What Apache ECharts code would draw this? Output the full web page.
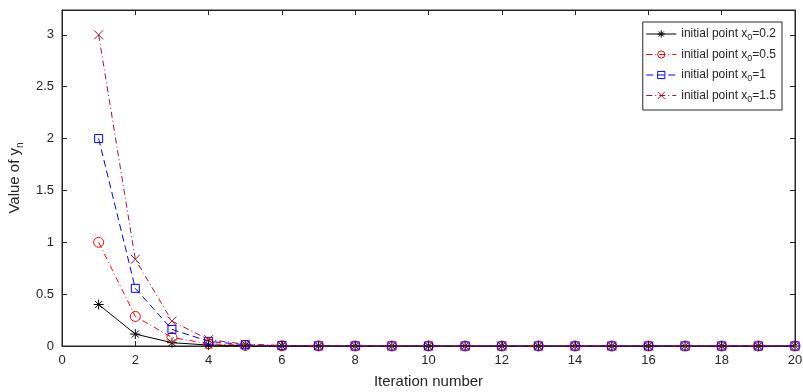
<!DOCTYPE html>
<html><head><meta charset="utf-8">
<script src="https://cdn.jsdelivr.net/npm/echarts@6/dist/echarts.min.js"></script>
<style>html,body{margin:0;padding:0;background:#fff}#c{width:803px;height:392px}</style>
</head><body><div id="c"></div>
<script>
const iterations = [1,2,3,4,5,6,7,8,9,10,11,12,13,14,15,16,17,18,19,20];
const seriesNames = ['0.2','0.5','1','1.5'];
const y02 = [0.4,0.115,0.032,0.009,0.0025,0.0007,0.0002,0.0001,0,0,0,0,0,0,0,0,0,0,0,0];
const y05 = [1,0.285,0.082,0.022,0.006,0.0017,0.0005,0.0001,0,0,0,0,0,0,0,0,0,0,0,0];
const y1  = [2,0.556,0.16,0.045,0.012,0.0035,0.001,0.0003,0.0001,0,0,0,0,0,0,0,0,0,0,0];
const y15 = [3,0.836,0.24,0.062,0.017,0.005,0.0014,0.0004,0.0001,0,0,0,0,0,0,0,0,0,0,0];
const xTicks = [0,2,4,6,8,10,12,14,16,18,20];
const yTicks = [0,0.5,1,1.5,2,2.5,3];

const txt = '#262626';
const font = 'Liberation Sans';
const pair = a => a.map((v,i)=>[iterations[i], v]);
const starPath = 'path://M5,0L5,10M0,5L10,5M1.5,1.5L8.5,8.5M8.5,1.5L1.5,8.5';
const xPath = 'path://M0,0L10,10M10,0L0,10';

function mk(name, data, color, dash, symbol, size){
  return {
    name: 'initial point x{s|0}=' + name,
    type: 'line', data: pair(data), symbol: symbol, symbolSize: size,
    showAllSymbol: true,
    lineStyle: {color: color, width: 1, type: dash},
    itemStyle: {color: 'rgba(0,0,0,0)', borderColor: color, borderWidth: 1},
    emphasis: {disabled: true}, animation: false
  };
}
const chart = echarts.init(document.getElementById('c'));
const axisCommon = {
  axisLine: {onZero: false, lineStyle: {color: txt, width: 1}},
  axisTick: {inside: true, length: 5, lineStyle: {color: txt}},
  splitLine: {show: false}
};
chart.setOption({
  animation: false,
  grid: {left: 62, right: 8, top: 10, bottom: 46, show: true, borderColor: txt, borderWidth: 1,
    backgroundColor: '#fff', containLabel: false, outerBoundsMode: 'none'},
  legend: {
    right: 21, top: 22, orient: 'vertical', itemWidth: 30, itemHeight: 9, itemGap: 6,
    borderColor: txt, borderWidth: 1, backgroundColor: '#fff', padding: [6, 6, 6, 3],
    lineStyle: {width: 1},
    itemStyle: {color: 'rgba(0,0,0,0)', borderWidth: 1},
    textStyle: {color: txt, fontSize: 12, fontFamily: font, rich: {
      s: {fontSize: 9, verticalAlign: 'bottom', padding: [8,0,0,0], color: txt, fontFamily: font}
    }}
  },
  xAxis: [
    Object.assign({type: 'value', min: 0, max: 20, interval: 2, position: 'bottom',
      name: 'Iteration number', nameLocation: 'middle', nameGap: 28,
      nameTextStyle: {color: txt, fontSize: 15, fontFamily: font},
      axisLabel: {color: txt, fontSize: 13, fontFamily: font, margin: 8}}, axisCommon),
    Object.assign({type: 'value', min: 0, max: 20, interval: 2, position: 'top', axisLabel: {show: false}}, axisCommon)
  ],
  yAxis: [
    Object.assign({type: 'value', min: 0, max: 3.24, interval: 0.5, position: 'left',
      name: 'Value of y{s|n}', nameLocation: 'middle', nameGap: 28,
      nameTextStyle: {color: txt, fontSize: 15, fontFamily: font, rich: {
        s: {fontSize: 10, padding: [10,0,0,0], color: txt, fontFamily: font}}},
      axisLabel: {color: txt, fontSize: 13, fontFamily: font, margin: 8, showMaxLabel: false}}, axisCommon),
    Object.assign({type: 'value', min: 0, max: 3.24, interval: 0.5, position: 'right', axisLabel: {show: false}}, axisCommon)
  ],
  series: [
    mk(seriesNames[0], y02, '#000000', 'solid', starPath, 10),
    mk(seriesNames[1], y05, '#ff0000', [6,3,1,3], 'circle', 10),
    mk(seriesNames[2], y1, '#0000ff', [7,4], 'rect', 8),
    mk(seriesNames[3], y15, '#a2142f', [6,3,1,3], xPath, 9)
  ]
});
</script></body></html>
